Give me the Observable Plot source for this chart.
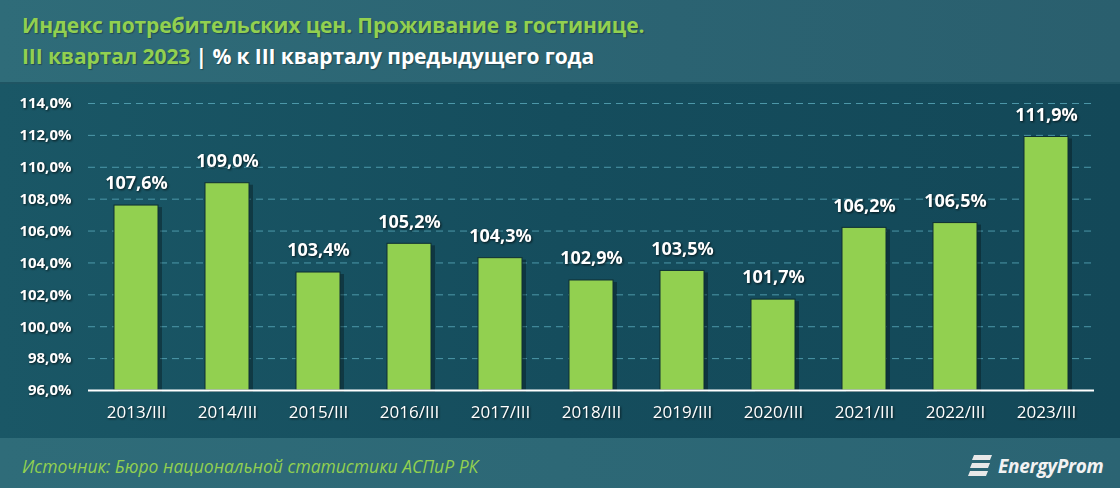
<!DOCTYPE html>
<html><head><meta charset="utf-8">
<script src="https://cdn.jsdelivr.net/npm/d3@7"></script>
<script src="https://cdn.jsdelivr.net/npm/@observablehq/plot@0.6"></script>
<style>
html,body{margin:0;padding:0;width:1120px;height:488px;overflow:hidden;font-family:"Open Sans",sans-serif;}
#page{position:relative;width:1120px;height:488px;background:#2d6774;}
#header{position:absolute;left:0;top:0;width:1120px;height:84px;background:linear-gradient(90deg,#2f6c79,#2b6372 60%,#2a5f6e);border-bottom:2px solid #1f5563;box-sizing:border-box;}
#title{position:absolute;left:22px;top:11px;font-weight:700;font-size:21px;color:#92d050;letter-spacing:-0.1px;white-space:nowrap;text-shadow:1px 1px 1px rgba(0,0,0,0.3);}
#subtitle{position:absolute;left:22px;top:42px;font-weight:700;font-size:21px;color:#92d050;letter-spacing:-0.1px;white-space:nowrap;text-shadow:1px 1px 1px rgba(0,0,0,0.3);}
#subtitle span{color:#fff;}
#chart{position:absolute;left:0;top:84px;width:1120px;height:354px;background:linear-gradient(90deg,#1a5766,#154d5d 50%,#134858);}
#footer{position:absolute;left:0;top:438px;width:1120px;height:50px;background:linear-gradient(90deg,#2f6c79,#2b6473);}
#source{position:absolute;left:22px;top:16px;font-style:italic;font-size:17.5px;color:#92d050;white-space:nowrap;}
#logo{position:absolute;left:968px;top:15px;display:flex;align-items:center;}
#logo span{font-style:italic;font-weight:700;font-size:19px;color:#f2f2f2;margin-left:4px;letter-spacing:-0.3px;}
#chart svg text{filter:drop-shadow(1px 1px 1px rgba(0,0,0,0.7));}
</style></head>
<body><div id="page">
<div id="header">
<div id="title">Индекс потребительских цен. Проживание в гостинице.</div>
<div id="subtitle">III квартал 2023 <span>| % к III кварталу предыдущего года</span></div>
</div>
<div id="chart"></div>
<div id="footer">
<div id="source">Источник: Бюро национальной статистики АСПиР РК</div>
<div id="logo"><svg width="26" height="26" viewBox="0 0 26 26"><path d="M6 2 L24 2 L22 7 L4 7 Z" fill="#e8e8e8"/><path d="M4 10 L22 10 L20 15 L2 15 Z" fill="#e8e8e8"/><path d="M2 18 L20 18 L18 23 L0 23 Z" fill="#e8e8e8"/></svg><span>EnergyProm</span></div>
</div>
</div>
<script>
const periods = ["2013/III","2014/III","2015/III","2016/III","2017/III","2018/III","2019/III","2020/III","2021/III","2022/III","2023/III"];
const values = [107.6,109.0,103.4,105.2,104.3,102.9,103.5,101.7,106.2,106.5,111.9];
const yTicks = [96,98,100,102,104,106,108,110,112,114];

const data = periods.map((p,i)=>({period:p, value:values[i]}));
const fmt = v => v.toFixed(1).replace(".", ",") + "%";

const chart = Plot.plot({
  width: 1120,
  height: 354,
  marginTop: 19,
  marginBottom: 48,
  marginLeft: 88,
  marginRight: 26,
  style: {background:"transparent", color:"#ffffff", fontFamily:"Open Sans, sans-serif"},
  x: {domain: periods, paddingInner: 0.52, paddingOuter: 0.25, label: null},
  y: {domain: [96,114], label: null},
  marks: [
    Plot.gridY(yTicks, {stroke:"#5aaabb", strokeOpacity:0.8, strokeDasharray:"7,5", strokeWidth:1}),
    Plot.axisY(yTicks, {tickSize:0, tickPadding:17, tickFormat:fmt, fontSize:15, fontWeight:700, fill:"#ffffff"}),
    Plot.axisX({tickSize:0, tickPadding:15, fontSize:17, fill:"#ffffff", label:null}),
    Plot.barY(data, {x:"period", y1:96, y2:"value", fill:"#000", fillOpacity:0.3, dx:4, dy:2}),
    Plot.barY(data, {x:"period", y1:96, y2:"value", fill:"#92d050", stroke:"#0e2e33", strokeWidth:1}),
    Plot.ruleY([96], {stroke:"#ffffff", strokeWidth:2}),
    Plot.text(data, {x:"period", y:"value", text:d=>fmt(d.value), dy:-22, fill:"#ffffff", fontSize:18, fontWeight:700})
  ]
});
document.getElementById("chart").appendChild(chart);
</script>
</body></html>
